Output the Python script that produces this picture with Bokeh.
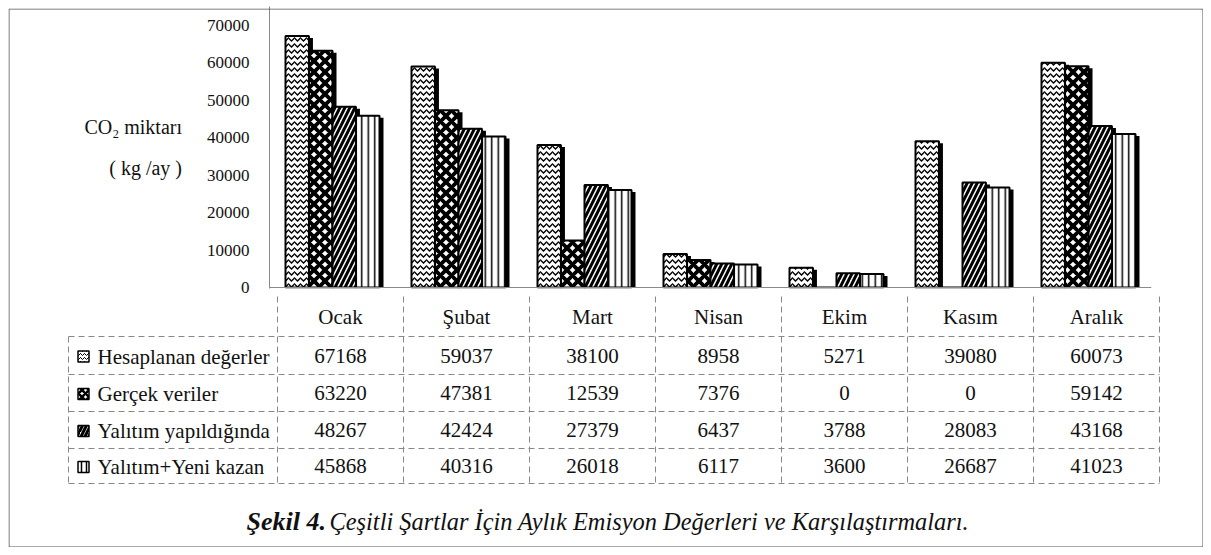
import numpy as np
from bokeh.plotting import figure
from bokeh.models import Range1d, Span, SingleIntervalTicker, NumeralTickFormatter
from bokeh.embed import file_html
from bokeh.resources import INLINE
from bokeh.core.properties import value

# ---------------- data ----------------
categories = ["Ocak", "Şubat", "Mart", "Nisan", "Ekim", "Kasım", "Aralık"]
series_names = ["Hesaplanan değerler", "Gerçek veriler", "Yalıtım yapıldığında", "Yalıtım+Yeni kazan"]
hesaplanan = [67168, 59037, 38100, 8958, 5271, 39080, 60073]
gercek = [63220, 47381, 12539, 7376, 0, 0, 59142]
yalitim = [48267, 42424, 27379, 6437, 3788, 28083, 43168]
yeni_kazan = [45868, 40316, 26018, 6117, 3600, 26687, 41023]
series_values = [hesaplanan, gercek, yalitim, yeni_kazan]
y_label = "CO₂ miktarı\n( kg /ay )"
caption_bold = "Şekil 4."
caption_rest = "Çeşitli Şartlar İçin Aylık Emisyon Değerleri ve Karşılaştırmaları."

# ---------------- styles / layout ----------------
FONT_NAME = "Liberation Serif"
FONT = value(FONT_NAME)
n = len(categories)
idx = np.arange(n)
offsets = [0.22, 0.407, 0.593, 0.78]
bar_w = 0.186
hatches = [
    dict(hatch_pattern="horizontal_wave", hatch_scale=6, hatch_weight=1.3),
    dict(hatch_pattern="diagonal_cross", hatch_scale=11, hatch_weight=3.8),
    dict(hatch_pattern="right_diagonal_line", hatch_scale=10, hatch_weight=3),
    dict(hatch_pattern="vertical_line", hatch_scale=6.5, hatch_weight=1.5),
]
icon_hatches = [
    dict(hatch_pattern="horizontal_wave", hatch_scale=4, hatch_weight=1),
    dict(hatch_pattern="diagonal_cross", hatch_scale=7, hatch_weight=2.5),
    dict(hatch_pattern="right_diagonal_line", hatch_scale=8, hatch_weight=3),
    dict(hatch_pattern="vertical_line", hatch_scale=5, hatch_weight=1.5),
]
W, H = 1195, 539          # page area used (8px margin)
PX0, PX1 = 8, 8 + W
PY0, PY1 = 8, 8 + H
AX_X = 277                # pixel of y axis / first month column
COL_W = 126               # pixel width of one month column
FRAME_TOP, BASE_Y = 14, 296
px_per_kg = 37.43 / 10000.0
shadow_dx = 4 / COL_W
shadow_dy = 2 / px_per_kg


def X(px):
    return (px - AX_X) / COL_W


# ---------------- chart figure ----------------
y_top = (BASE_Y - 1 - FRAME_TOP) / px_per_kg
pA = figure(width=W, height=H, x_range=Range1d(0, n), y_range=Range1d(-1 / px_per_kg, y_top),
            output_backend="svg", toolbar_location=None,
            min_border_left=AX_X - PX0, min_border_right=PX1 - (AX_X + n * COL_W),
            min_border_top=FRAME_TOP - PY0, min_border_bottom=PY1 - BASE_Y)
pA.xaxis.visible = False
pA.grid.visible = False
pA.outline_line_color = None
pA.background_fill_color = None
pA.border_fill_color = None

ya = pA.yaxis[0]
ya.ticker = SingleIntervalTicker(interval=10000)
ya.formatter = NumeralTickFormatter(format="0")
ya.axis_line_color = "#8a8a8a"
ya.major_tick_line_color = None
ya.minor_tick_line_color = None
ya.major_label_standoff = 14
ya.major_label_text_font = FONT_NAME
ya.major_label_text_font_size = "17px"
ya.major_label_text_color = "#111111"
ya.axis_label = y_label
ya.axis_label_orientation = "horizontal"
ya.axis_label_standoff = 22
ya.axis_label_text_font = FONT_NAME
ya.axis_label_text_font_style = "normal"
ya.axis_label_text_font_size = "20px"
ya.axis_label_text_color = "#111111"
ya.axis_label_text_line_height = 1.9
ya.axis_label_text_align = "center"

pA.add_layout(Span(location=0, dimension="width", line_color="#8a8a8a", line_width=1))

for s, vals in enumerate(series_values):
    vals = np.array(vals, dtype=float)
    shadow_top = np.maximum(vals - shadow_dy, 0)
    pA.vbar(x=idx + offsets[s] + shadow_dx, top=shadow_top, bottom=0, width=bar_w,
            fill_color="black", line_color=None)
    pA.vbar(x=idx + offsets[s], top=vals, bottom=0, width=bar_w,
            fill_color="white", line_color="black", line_width=2,
            hatch_color="black", **hatches[s])

# ---------------- table / caption / frame overlay figure ----------------
pB = figure(width=W, height=H, x_range=Range1d(X(PX0), X(PX1)), y_range=Range1d(PY1, PY0),
            output_backend="svg", toolbar_location=None,
            min_border_left=0, min_border_right=0, min_border_top=0, min_border_bottom=0,
            styles={"position": "absolute", "top": f"{PY0}px", "left": f"{PX0}px"})
pB.xaxis.visible = False
pB.yaxis.visible = False
pB.grid.visible = False
pB.outline_line_color = None
pB.background_fill_color = None
pB.border_fill_color = None

TABLE_LEFT = 68
row_lines = [336, 374, 411, 448, 483]
row_centers = [355, 392.5, 429.5, 465.5]
header_center = 316
dash = "6 4"
grid_col = "#888888"

pB.segment(x0=[X(TABLE_LEFT)] * len(row_lines), x1=[n] * len(row_lines), y0=row_lines, y1=row_lines,
           line_color=grid_col, line_width=1, line_dash=dash)
col_edges = list(range(n + 1))
pB.segment(x0=col_edges, x1=col_edges, y0=[BASE_Y] * len(col_edges), y1=[row_lines[-1]] * len(col_edges),
           line_color=grid_col, line_width=1, line_dash=dash)
pB.segment(x0=[X(TABLE_LEFT)], x1=[X(TABLE_LEFT)], y0=[row_lines[0]], y1=[row_lines[-1]],
           line_color=grid_col, line_width=1, line_dash=dash)

# outer box
pB.quad(left=[X(PX0 + 0.5)], right=[X(PX1 - 0.5)], top=[PY0 + 0.5], bottom=[PY1 - 0.5],
        fill_color=None, line_color="#555555", line_width=1)

pB.text(x=idx + 0.5, y=[header_center] * n, text=categories, text_align="center", text_baseline="middle",
        text_font=FONT, text_font_size="21px", text_color="#111111")

for r, vals in enumerate(series_values):
    pB.text(x=idx + 0.5, y=[row_centers[r]] * n, text=[str(v) for v in vals],
            text_align="center", text_baseline="middle",
            text_font=FONT, text_font_size="21px", text_color="#111111")
    pB.text(x=[X(97)], y=[row_centers[r] + 1], text=[series_names[r]],
            text_align="left", text_baseline="middle",
            text_font=FONT, text_font_size="21px", text_color="#111111")
    pB.rect(x=[X(83)], y=[row_centers[r] + 1], width=11 / COL_W, height=11,
            fill_color="white", line_color="black", line_width=1.5,
            hatch_color="black", **icon_hatches[r])

pB.text(x=[X(246)], y=[521], text=[caption_bold], text_align="left", text_baseline="middle",
        text_font=FONT, text_font_style="bold italic", text_font_size="26px", text_color="#111111")
pB.text(x=[X(329)], y=[521], text=[caption_rest], text_align="left", text_baseline="middle",
        text_font=FONT, text_font_style="italic", text_font_size="24.4px", text_color="#111111")

open("out.html", "w").write(file_html([pA, pB], INLINE))
